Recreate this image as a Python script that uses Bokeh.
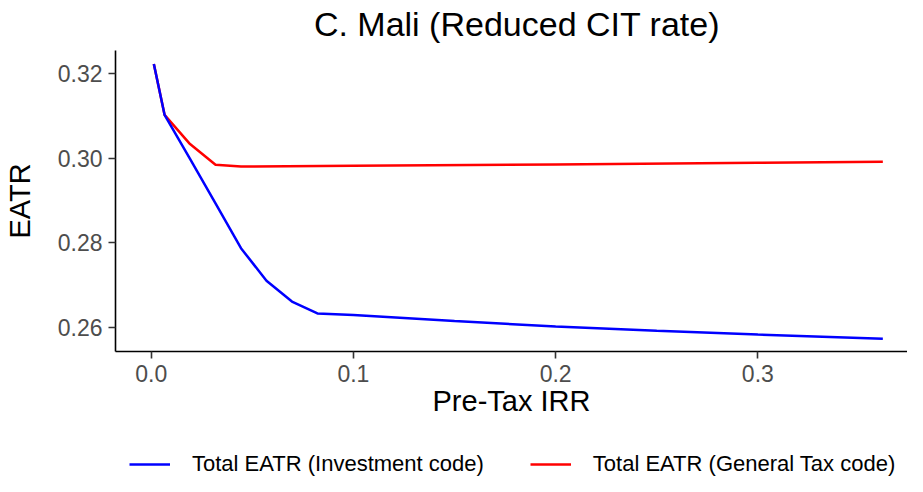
from bokeh.plotting import figure
from bokeh.models import Range1d, Legend, LegendItem, Label
from bokeh.layouts import column
from bokeh.embed import file_html
from bokeh.resources import INLINE

# Data
irr_inv = [0.0013, 0.0066, 0.0192, 0.0318, 0.0444, 0.0570, 0.0696, 0.0822,
           0.10, 0.15, 0.20, 0.25, 0.30, 0.3618]
eatr_inv = [0.3222, 0.3102, 0.2998, 0.2893, 0.2787, 0.2710, 0.2661, 0.2633,
            0.2629, 0.2615, 0.2602, 0.2592, 0.2583, 0.2573]
irr_gen = [0.0013, 0.0066, 0.0192, 0.0318, 0.0444, 0.10, 0.20, 0.30, 0.3618]
eatr_gen = [0.3222, 0.3102, 0.3033, 0.2984, 0.2980, 0.2982, 0.2985, 0.2989, 0.2991]

x_ticks = [0.0, 0.1, 0.2, 0.3]
x_tick_labels = ["0.0", "0.1", "0.2", "0.3"]
y_ticks = [0.26, 0.28, 0.30, 0.32]
y_tick_labels = ["0.26", "0.28", "0.30", "0.32"]

series_names = ["Total EATR (Investment code)", "Total EATR (General Tax code)"]
series_colors = ["#0000FF", "#FF0000"]
title_text = "C. Mali (Reduced CIT rate)"
x_label = "Pre-Tax IRR"
y_label = "EATR"

FONT = "Liberation Sans"


def strip(height, y_range):
    f = figure(width=907, height=height, output_backend="svg", toolbar_location=None,
               x_axis_location=None, y_axis_location=None,
               min_border_left=0, min_border_right=0, min_border_top=0,
               min_border_bottom=0, outline_line_color=None,
               x_range=Range1d(0, 1), y_range=y_range)
    f.xgrid.visible = False
    f.ygrid.visible = False
    return f


# title strip
tt = strip(50, Range1d(0, 1))
tt.add_layout(Label(x=401.5, y=27, x_units="screen", y_units="screen",
                    text=title_text, text_align="center", text_baseline="alphabetic",
                    text_font=FONT, text_font_size="34px", text_color="black"))

# main plot
p = figure(width=907, height=380,
           x_range=Range1d(-0.01766, 0.374), y_range=Range1d(0.2543, 0.3254),
           output_backend="svg", toolbar_location=None,
           min_border_left=115, min_border_right=0,
           min_border_top=0, min_border_bottom=79)

p.outline_line_color = None
p.xgrid.visible = False
p.ygrid.visible = False
p.background_fill_color = "white"
p.border_fill_color = "white"

p.line(irr_gen, eatr_gen, line_color=series_colors[1], line_width=2.5)
p.line(irr_inv, eatr_inv, line_color=series_colors[0], line_width=2.5)

for ax in (p.xaxis[0], p.yaxis[0]):
    ax.axis_line_color = "black"
    ax.axis_line_width = 1.6
    ax.major_tick_line_color = "#333333"
    ax.major_tick_line_width = 1.6
    ax.major_tick_out = 7
    ax.major_tick_in = 0
    ax.minor_tick_line_color = None
    ax.major_label_text_color = "#4D4D4D"
    ax.major_label_text_font = FONT
    ax.major_label_text_font_size = "23px"
    ax.major_label_standoff = 6
    ax.axis_label_text_font = FONT
    ax.axis_label_text_font_size = "29px"
    ax.axis_label_text_font_style = "normal"
    ax.axis_label_text_color = "black"

p.xaxis.ticker = x_ticks
p.xaxis.major_label_overrides = dict(zip(x_ticks, x_tick_labels))
p.yaxis.ticker = y_ticks
p.yaxis.major_label_overrides = dict(zip(y_ticks, y_tick_labels))
p.xaxis.axis_label = x_label
p.yaxis.axis_label = y_label
p.xaxis.axis_label_standoff = 0
p.yaxis.axis_label_standoff = 19

# legend strip below the main plot (its view ranges keep the series out of sight)
lg = strip(46, Range1d(10, 11))
k_inv = lg.line(irr_inv, eatr_inv, line_color=series_colors[0], line_width=2.5)
k_gen = lg.line(irr_gen, eatr_gen, line_color=series_colors[1], line_width=2.5)

legend = Legend(items=[LegendItem(label=series_names[0], renderers=[k_inv]),
                       LegendItem(label=series_names[1], renderers=[k_gen])],
                location=(14, -1), orientation="horizontal",
                glyph_width=41, glyph_height=20, label_standoff=22,
                spacing=46, padding=0, margin=0,
                border_line_color=None, background_fill_alpha=0,
                label_text_font=FONT, label_text_font_size="22px",
                label_text_color="black")
lg.add_layout(legend)

layout = column(tt, p, lg, spacing=0)
open("out.html", "w").write(file_html(layout, INLINE))
